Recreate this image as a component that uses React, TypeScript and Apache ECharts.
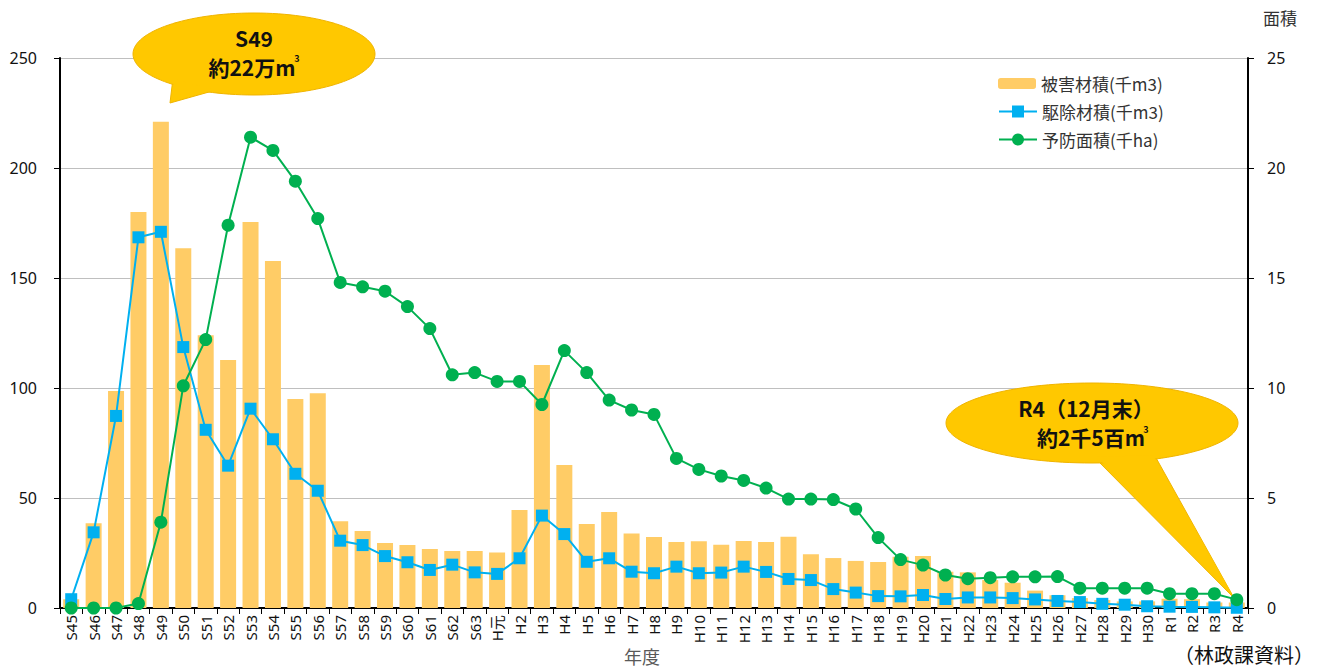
import React, { useEffect, useRef } from 'react';
import * as echarts from 'echarts';

const categories = [
  'S45', 'S46', 'S47', 'S48', 'S49', 'S50', 'S51', 'S52', 'S53', 'S54', 'S55', 'S56', 'S57', 'S58', 'S59', 'S60', 'S61', 'S62', 'S63',
  'H元', 'H2', 'H3', 'H4', 'H5', 'H6', 'H7', 'H8', 'H9', 'H10', 'H11', 'H12', 'H13', 'H14', 'H15', 'H16', 'H17', 'H18', 'H19', 'H20',
  'H21', 'H22', 'H23', 'H24', 'H25', 'H26', 'H27', 'H28', 'H29', 'H30', 'R1', 'R2', 'R3', 'R4',
];

// 被害材積(千m3)
const damageVolume = [
  4, 38.5, 98.6, 180, 221, 163.5, 124, 112.7, 175.4, 157.7, 95, 97.6, 39.4, 35, 29.5, 28.6, 26.8, 25.9, 25.9,
  25.2, 44.5, 110.5, 65, 38.2, 43.6, 33.9, 32.3, 30, 30.3, 28.8, 30.5, 30, 32.4, 24.4, 22.7, 21.4, 20.9, 23.3, 23.6,
  16.5, 16.2, 12.7, 11.5, 7.9, 5.8, 4.5, 3.6, 3, 3, 4.2, 4, 2.5, 2.5,
];

// 駆除材積(千m3)
const removalVolume = [
  4, 34.4, 87.3, 168.5, 171, 118.6, 81, 64.7, 90.6, 76.7, 61, 53.3, 30.6, 28.6, 23.6, 20.8, 17.3, 19.7, 16.2,
  15.5, 22.6, 42, 33.6, 21, 22.6, 16.5, 15.8, 18.8, 15.8, 16.1, 18.8, 16.4, 13.2, 12.7, 8.6, 7.0, 5.4, 5.3, 5.9,
  4.1, 4.8, 4.8, 4.5, 3.9, 3.2, 2.7, 1.9, 1.5, 0.8, 0.6, 0.5, 0.3, 0.1,
];

// 予防面積(千ha)
const preventionArea = [
  0, 0, 0, 0.2, 3.9, 10.1, 12.2, 17.4, 21.4, 20.8, 19.4, 17.7, 14.8, 14.6, 14.4, 13.7, 12.7, 10.6, 10.7,
  10.3, 10.3, 9.25, 11.7, 10.7, 9.45, 9.0, 8.8, 6.8, 6.3, 6.0, 5.8, 5.45, 4.95, 4.95, 4.93, 4.5, 3.2, 2.2, 1.95,
  1.5, 1.33, 1.38, 1.42, 1.42, 1.43, 0.9, 0.9, 0.9, 0.9, 0.65, 0.65, 0.65, 0.38,
];

const seriesNames = ['被害材積(千m3)', '駆除材積(千m3)', '予防面積(千ha)'];

const FONT = "'Noto Sans', 'Noto Sans CJK JP', sans-serif";
const CJK = "'Noto Sans CJK JP', 'Noto Sans', sans-serif";

const calloutFill = '#FFC800';
const calloutStroke = '#F0B400';

export default function App() {
  const ref = useRef<HTMLDivElement>(null);

  useEffect(() => {
    const chart = echarts.init(ref.current as HTMLDivElement, null, { renderer: 'svg' });
    const legendText = { fontFamily: CJK, fontSize: 17, color: '#333333' };
    chart.setOption({
      animation: false,
      backgroundColor: '#ffffff',
      textStyle: { fontFamily: FONT },
      grid: { left: 60, right: 81, top: 58, bottom: 61, containLabel: false },
      legend: [
        {
          data: [seriesNames[0]],
          orient: 'vertical',
          left: 993,
          top: 70,
          itemWidth: 38,
          itemHeight: 11,
          textStyle: legendText,
        },
        {
          data: [seriesNames[1], seriesNames[2]],
          orient: 'vertical',
          left: 993,
          top: 98,
          itemWidth: 38,
          itemHeight: 15,
          itemGap: 11,
          textStyle: legendText,
        },
      ],
      xAxis: {
        type: 'category',
        data: categories,
        axisLine: { lineStyle: { color: '#000000', width: 2 } },
        axisTick: { show: true, alignWithLabel: false, length: 6, lineStyle: { color: '#000000', width: 1 } },
        axisLabel: {
          interval: 0,
          rotate: 90,
          fontSize: 15,
          margin: 7,
          color: '#111111',
          fontFamily: FONT,
        },
      },
      yAxis: [
        {
          type: 'value',
          min: 0,
          max: 250,
          interval: 50,
          axisLine: { show: true, lineStyle: { color: '#000000', width: 2 } },
          axisTick: { show: true, length: 6, lineStyle: { color: '#000000' } },
          axisLabel: { fontSize: 16, margin: 23, color: '#111111', fontFamily: FONT },
          splitLine: { show: true, lineStyle: { color: '#BFBFBF', width: 1 } },
        },
        {
          type: 'value',
          min: 0,
          max: 25,
          interval: 5,
          position: 'right',
          axisLine: { show: true, lineStyle: { color: '#000000', width: 2 } },
          axisTick: { show: true, length: 6, lineStyle: { color: '#000000' } },
          axisLabel: { fontSize: 16, margin: 19, color: '#111111', fontFamily: FONT },
          splitLine: { show: false },
        },
      ],
      series: [
        {
          name: seriesNames[0],
          type: 'bar',
          yAxisIndex: 0,
          data: damageVolume,
          barWidth: 16,
          itemStyle: { color: '#FFCC66' },
          z: 2,
        },
        {
          name: seriesNames[1],
          type: 'line',
          yAxisIndex: 0,
          data: removalVolume,
          symbol: 'rect',
          symbolSize: 12,
          lineStyle: { color: '#00B0F0', width: 2 },
          itemStyle: { color: '#00B0F0' },
          z: 3,
        },
        {
          name: seriesNames[2],
          type: 'line',
          yAxisIndex: 1,
          data: preventionArea,
          symbol: 'circle',
          symbolSize: 13,
          lineStyle: { color: '#00B050', width: 2 },
          itemStyle: { color: '#00B050' },
          z: 4,
        },
      ],
      graphic: [
        // Callout 1 (S49)
        { type: 'polygon', z: 1, shape: { points: [[173, 78], [216, 90], [170, 103]] }, style: { fill: calloutFill, stroke: calloutStroke, lineWidth: 1 } },
        { type: 'ellipse', z: 1, shape: { cx: 254, cy: 54, rx: 121, ry: 41 }, style: { fill: calloutFill, stroke: calloutStroke, lineWidth: 1 } },
        { type: 'polygon', z: 1, shape: { points: [[174, 79], [215, 90], [171, 101]] }, style: { fill: calloutFill } },
        { type: 'text', z: 5, x: 254, y: 38, style: { text: 'S49', fontSize: 21, fontWeight: 'bold', fontFamily: CJK, fill: '#111111', textAlign: 'center', textVerticalAlign: 'middle' } },
        { type: 'text', z: 5, x: 252, y: 67, style: { text: '約22万m', fontSize: 21, fontWeight: 'bold', fontFamily: CJK, fill: '#111111', textAlign: 'center', textVerticalAlign: 'middle' } },
        { type: 'text', z: 5, x: 297, y: 58, style: { text: '3', fontSize: 9, fontWeight: 'bold', fontFamily: CJK, fill: '#111111', textAlign: 'center', textVerticalAlign: 'middle' } },
        // Callout 2 (R4)
        { type: 'polygon', z: 1, shape: { points: [[1095, 458], [1155, 456], [1234, 598]] }, style: { fill: calloutFill, stroke: calloutStroke, lineWidth: 1 } },
        { type: 'ellipse', z: 1, shape: { cx: 1092, cy: 423, rx: 146, ry: 40 }, style: { fill: calloutFill, stroke: calloutStroke, lineWidth: 1 } },
        { type: 'polygon', z: 1, shape: { points: [[1097, 457], [1153, 455], [1232, 594]] }, style: { fill: calloutFill } },
        { type: 'text', z: 5, x: 1086, y: 408, style: { text: 'R4（12月末）', fontSize: 21, fontWeight: 'bold', fontFamily: CJK, fill: '#111111', textAlign: 'center', textVerticalAlign: 'middle' } },
        { type: 'text', z: 5, x: 1091, y: 437, style: { text: '約2千5百m', fontSize: 21, fontWeight: 'bold', fontFamily: CJK, fill: '#111111', textAlign: 'center', textVerticalAlign: 'middle' } },
        { type: 'text', z: 5, x: 1146, y: 429, style: { text: '3', fontSize: 9, fontWeight: 'bold', fontFamily: CJK, fill: '#111111', textAlign: 'center', textVerticalAlign: 'middle' } },
        // Axis titles & source
        { type: 'text', z: 5, x: 1280, y: 17, style: { text: '面積', fontSize: 17, fontFamily: CJK, fill: '#333333', textAlign: 'center', textVerticalAlign: 'middle' } },
        { type: 'text', z: 5, x: 642, y: 656, style: { text: '年度', fontSize: 18, fontFamily: CJK, fill: '#595959', textAlign: 'center', textVerticalAlign: 'middle' } },
        { type: 'text', z: 5, x: 1244, y: 654, style: { text: '（林政課資料）', fontSize: 20, fontFamily: CJK, fill: '#111111', textAlign: 'center', textVerticalAlign: 'middle' } },
      ],
    });
    return () => chart.dispose();
  }, []);

  return <div ref={ref} style={{ position: 'absolute', left: 0, top: 0, width: 1329, height: 669 }} />;
}
